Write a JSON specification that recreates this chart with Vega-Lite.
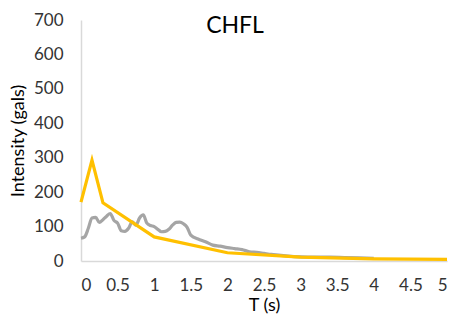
{
  "$schema": "https://vega.github.io/schema/vega-lite/v6.json",
  "width": 366,
  "height": 241,
  "autosize": {"type": "none"},
  "padding": {"left": 81, "top": 20, "right": 15, "bottom": 57},
  "background": "white",
  "title": {
    "text": "CHFL",
    "font": "Lato",
    "fontSize": 23,
    "fontWeight": "normal",
    "color": "#000000",
    "anchor": "middle",
    "dx": -29,
    "offset": -27
  },
  "config": {
    "view": {"stroke": null},
    "axis": {
      "labelFont": "Lato",
      "titleFont": "Lato",
      "labelFontSize": 17,
      "titleFontSize": 18,
      "titleFontWeight": "normal",
      "labelColor": "#333333",
      "titleColor": "#000000",
      "domainColor": "#D9D9D9",
      "domainWidth": 1.5,
      "ticks": false,
      "grid": false
    }
  },
  "datasets": {
    "design": [
      {"T": 0, "v": 171},
      {"T": 0.15, "v": 293},
      {"T": 0.3, "v": 169},
      {"T": 1.0, "v": 70},
      {"T": 2.0, "v": 24},
      {"T": 3.0, "v": 11},
      {"T": 4.0, "v": 6},
      {"T": 5.0, "v": 5}
    ],
    "record": [
      {"T": 0, "v": 66},
      {"T": 0.05, "v": 70},
      {"T": 0.1, "v": 95},
      {"T": 0.15, "v": 125},
      {"T": 0.2, "v": 127},
      {"T": 0.25, "v": 112},
      {"T": 0.3, "v": 120},
      {"T": 0.35, "v": 130},
      {"T": 0.4, "v": 138},
      {"T": 0.45, "v": 118},
      {"T": 0.5, "v": 110},
      {"T": 0.55, "v": 88},
      {"T": 0.6, "v": 86},
      {"T": 0.65, "v": 95},
      {"T": 0.7, "v": 114},
      {"T": 0.75, "v": 104},
      {"T": 0.8, "v": 125},
      {"T": 0.85, "v": 134},
      {"T": 0.9, "v": 110},
      {"T": 0.95, "v": 103},
      {"T": 1.0, "v": 100},
      {"T": 1.05, "v": 92},
      {"T": 1.1, "v": 85},
      {"T": 1.15, "v": 86},
      {"T": 1.2, "v": 92},
      {"T": 1.25, "v": 104},
      {"T": 1.3, "v": 112},
      {"T": 1.35, "v": 113},
      {"T": 1.4, "v": 108},
      {"T": 1.45, "v": 98},
      {"T": 1.5, "v": 75},
      {"T": 1.6, "v": 64},
      {"T": 1.7, "v": 56},
      {"T": 1.8, "v": 46},
      {"T": 1.9, "v": 43},
      {"T": 2.0, "v": 39},
      {"T": 2.1, "v": 36},
      {"T": 2.2, "v": 33},
      {"T": 2.3, "v": 27},
      {"T": 2.4, "v": 25},
      {"T": 2.5, "v": 22},
      {"T": 2.6, "v": 19},
      {"T": 2.7, "v": 17},
      {"T": 2.8, "v": 15},
      {"T": 3.0, "v": 12},
      {"T": 3.2, "v": 11},
      {"T": 3.4, "v": 11},
      {"T": 3.6, "v": 10},
      {"T": 3.8, "v": 9},
      {"T": 4.0, "v": 8}
    ]
  },
  "encoding": {
    "x": {
      "field": "T",
      "type": "quantitative",
      "scale": {"domain": [0, 5], "nice": false},
      "axis": {
        "title": "T (s)",
        "values": [0, 0.5, 1, 1.5, 2, 2.5, 3, 3.5, 4, 4.5, 5],
        "format": "~g",
        "labelPadding": 16,
        "titlePadding": 3
      }
    },
    "y": {
      "field": "v",
      "type": "quantitative",
      "scale": {"domain": [0, 700], "nice": false},
      "axis": {
        "title": "Intensity (gals)",
        "values": [0, 100, 200, 300, 400, 500, 600, 700],
        "labelPadding": 18,
        "titlePadding": 6
      }
    }
  },
  "layer": [
    {
      "data": {"name": "record"},
      "mark": {"type": "line", "color": "#A5A5A5", "strokeWidth": 3.2, "interpolate": "monotone"}
    },
    {
      "data": {"name": "design"},
      "mark": {"type": "line", "color": "#FFC000", "strokeWidth": 3.2}
    }
  ]
}
